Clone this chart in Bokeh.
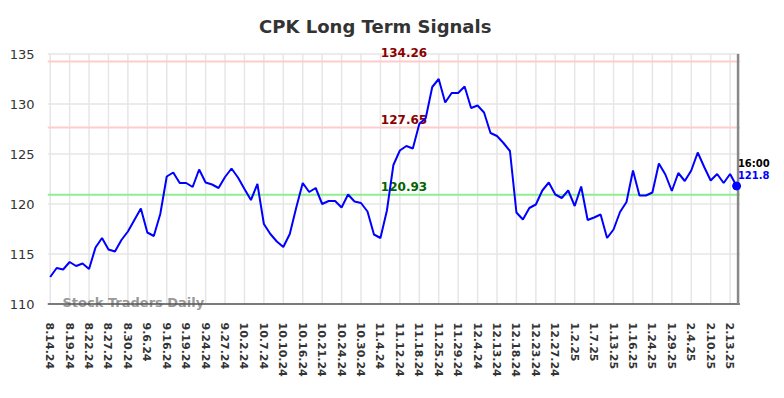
from bokeh.plotting import figure
from bokeh.models import Range1d, FixedTicker
from bokeh.core.properties import value
from bokeh.embed import file_html
from bokeh.resources import INLINE

# ---- data ----
prices = [
    112.7, 113.6, 113.45, 114.2, 113.8, 114.05, 113.5, 115.65, 116.6, 115.45,
    115.25, 116.4, 117.25, 118.4, 119.55, 117.15, 116.8, 119.0, 122.75, 123.15,
    122.1, 122.1, 121.7, 123.45, 122.15, 121.95, 121.6, 122.7, 123.55, 122.65,
    121.5, 120.4, 122.0, 118.0, 117.0, 116.25, 115.7, 117.0, 119.65, 122.1,
    121.2, 121.6, 120.0, 120.3, 120.3, 119.65, 120.95, 120.25, 120.1, 119.25,
    116.95, 116.6, 119.35, 123.9, 125.35, 125.8, 125.55, 128.0, 128.6, 131.7,
    132.5, 130.15, 131.1, 131.1, 131.75, 129.6, 129.85, 129.15, 127.1, 126.8,
    126.1, 125.3, 119.15, 118.45, 119.6, 119.95, 121.35, 122.15, 120.95, 120.6,
    121.35, 119.8, 121.75, 118.4, 118.65, 118.95, 116.6, 117.45, 119.2, 120.2,
    123.35, 120.85, 120.85, 121.15, 124.05, 122.95, 121.3, 123.1, 122.3, 123.35,
    125.15, 123.7, 122.35, 123.0, 122.1, 123.0, 121.8,
]
tick_labels = [
    "8.14.24", "8.19.24", "8.22.24", "8.27.24", "8.30.24", "9.6.24", "9.16.24",
    "9.19.24", "9.24.24", "9.27.24", "10.2.24", "10.7.24", "10.10.24", "10.16.24",
    "10.21.24", "10.24.24", "10.30.24", "11.4.24", "11.12.24", "11.18.24",
    "11.25.24", "11.29.24", "12.4.24", "12.13.24", "12.18.24", "12.23.24",
    "12.27.24", "1.2.25", "1.7.25", "1.13.25", "1.16.25", "1.24.25", "1.29.25",
    "2.4.25", "2.10.25", "2.13.25",
]
tick_step = 3
y_ticks = [110, 115, 120, 125, 130, 135]
resistance_levels = [134.26, 127.65]
support_levels = [120.93]
last_time = "16:00"
title_text = "CPK Long Term Signals"
watermark = "Stock Traders Daily"

FONT = "DejaVu Sans"
xs = list(range(len(prices)))
tick_pos = [i * tick_step for i in range(len(tick_labels))]

# plotting area bounds (data space)
x_lo, x_hi = -0.417, 106.5          # visible chart area
y_lo, y_hi = y_ticks[0], y_ticks[-1]

p = figure(width=784, height=398, output_backend="svg", toolbar_location=None,
           title=None, x_range=Range1d(x_lo, 113.4), y_range=Range1d(109.05, 140.35),
           min_border_left=47, min_border_right=0, min_border_top=0,
           min_border_bottom=85)
p.outline_line_color = None
p.xgrid.visible = False
p.ygrid.visible = False

# axes
p.xaxis.ticker = FixedTicker(ticks=tick_pos)
p.xaxis.major_label_overrides = {t: l for t, l in zip(tick_pos, tick_labels)}
p.xaxis.major_label_orientation = "vertical"
p.xaxis.major_label_text_font = FONT
p.xaxis.major_label_text_font_style = "bold"
p.xaxis.major_label_text_font_size = "11px"
p.xaxis.major_label_text_color = "#333333"
p.xaxis.major_label_standoff = 9
p.xaxis.major_tick_out = 0
p.xaxis.major_tick_in = 0
p.xaxis.major_tick_line_color = None
p.xaxis.minor_tick_line_color = None
p.xaxis.axis_line_color = None

p.yaxis.ticker = FixedTicker(ticks=y_ticks)
p.yaxis.major_label_text_font = FONT
p.yaxis.major_label_text_font_size = "13px"
p.yaxis.major_label_text_color = "#333333"
p.yaxis.major_label_standoff = 13
p.yaxis.major_tick_out = 0
p.yaxis.major_tick_in = 0
p.yaxis.major_tick_line_color = None
p.yaxis.minor_tick_line_color = None
p.yaxis.axis_line_color = None

GRID = "#e6e6e6"
# grid lines limited to the chart area
p.segment(x0=tick_pos, x1=tick_pos, y0=[y_lo] * len(tick_pos), y1=[y_hi] * len(tick_pos),
          line_color=GRID, line_width=1.5)
p.segment(x0=[x_lo] * len(y_ticks), x1=[x_hi] * len(y_ticks), y0=y_ticks, y1=y_ticks,
          line_color=GRID, line_width=1.5)

# watermark (under the axis line)
p.text(x=[1.9], y=[110.19], text=[watermark], text_align="left", text_baseline="middle",
       text_font=value(FONT), text_font_style="bold", text_font_size="13px",
       text_color="#999999")

# level lines and labels
levels = resistance_levels + support_levels
line_cols = ["#ffcccc"] * len(resistance_levels) + ["#90ee90"] * len(support_levels)
text_cols = ["#8b0000"] * len(resistance_levels) + ["#006400"] * len(support_levels)
p.segment(x0=[x_lo] * len(levels), x1=[x_hi] * len(levels), y0=levels, y1=levels,
          line_color=line_cols, line_width=2)
p.text(x=[54.64] * len(levels), y=[v + 0.85 for v in levels],
       text=[f"{v:.2f}" for v in levels], text_color=text_cols,
       text_align="center", text_baseline="middle", text_font=value(FONT),
       text_font_style="bold", text_font_size="12px")

# bottom axis line and right edge marker
p.segment(x0=[x_lo], x1=[x_hi], y0=[y_lo], y1=[y_lo], line_color="#555555", line_width=1.5)
p.segment(x0=[xs[-1] + 0.23], x1=[xs[-1] + 0.23], y0=[y_lo], y1=[y_hi],
          line_color="#888888", line_width=2.5)

# price line
p.line(xs, prices, line_color="#0000ff", line_width=2)
p.scatter([xs[-1]], [prices[-1]], size=8, color="#0000ff")

# last value annotation
p.text(x=[xs[-1] + 0.2] * 2, y=[124.09, 122.89], text=[last_time, f"{prices[-1]}"],
       text_color=["#000000", "#0000ff"], text_align="left", text_baseline="middle",
       text_font=value(FONT), text_font_style="bold", text_font_size="10px")

# title
p.text(x=[50.2], y=[137.75], text=[title_text], text_align="center",
       text_baseline="middle", text_font=value(FONT), text_font_style="bold",
       text_font_size="18px", text_color="#333333")

open("out.html", "w").write(file_html(p, INLINE))
